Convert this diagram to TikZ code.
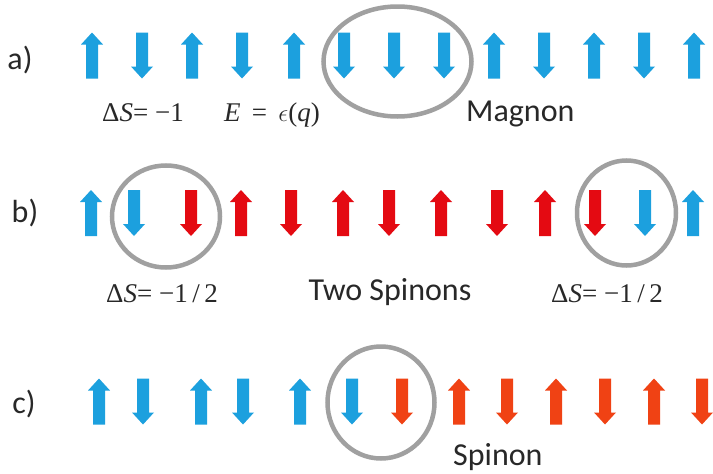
\documentclass[tikz,border=0pt]{standalone}
\usepackage{fontspec}
\setmainfont{Carlito}
\newfontfamily\tms{Liberation Serif}
\definecolor{spinblue}{RGB}{28,160,222}
\definecolor{spinred}{RGB}{228,10,18}
\definecolor{spinorange}{RGB}{240,66,20}
\definecolor{ringgray}{RGB}{160,160,160}
\definecolor{txtgray}{RGB}{40,40,40}
\tikzset{
  blu/.style={fill=spinblue},
  rd/.style={fill=spinred},
  org/.style={fill=spinorange},
  spinup/.pic={\path[pic actions] (-6,23) -- (-6,-11) -- (-11,-11) -- (0,-23) -- (11,-11) -- (6,-11) -- (6,23) -- cycle;},
  spindn/.pic={\path[pic actions] (-6,-23) -- (-6,11) -- (-11,11) -- (0,23) -- (11,11) -- (6,11) -- (6,-23) -- cycle;},
  ring/.style={draw=ringgray,line width=4.5pt},
  sanslbl/.style={inner sep=0pt,text=txtgray,font=\fontsize{32}{36}\selectfont},
  mathlbl/.style={inner sep=0pt,text=txtgray,font=\tms\fontsize{27}{30}\selectfont},
}
\begin{document}
\begin{tikzpicture}[x=1pt,y=-1pt]
\useasboundingbox[fill=white] (0,0) rectangle (713,474);
% row a
\node[sanslbl] (la) at (20,60) {a)};
\pic[blu] at (92,55.5) {spinup};
\pic[blu] at (142,55.5) {spindn};
\pic[blu] at (192,55.5) {spinup};
\pic[blu] at (242,55.5) {spindn};
\pic[blu] at (294,55.5) {spinup};
\pic[blu] at (344,55.5) {spindn};
\pic[blu] at (394,55.5) {spindn};
\pic[blu] at (444,55.5) {spindn};
\pic[blu] at (494,55.5) {spinup};
\pic[blu] at (544,55.5) {spindn};
\pic[blu] at (594,55.5) {spinup};
\pic[blu] at (644,55.5) {spindn};
\pic[blu] at (694,55.5) {spinup};
\draw[ring] (397.5,61.5) ellipse [x radius=74, y radius=55];
\node[mathlbl,anchor=base] (dsa) at (143,121) {Δ\textit{S}= −1};
\node[mathlbl,anchor=base] (ea) at (272,121) {\textit{E}\, = \,$\epsilon$(\textit{q})};
\node[sanslbl,anchor=base west] (mag) at (466,121) {Magnon};
% row b
\node[sanslbl] (lb) at (25,213) {b)};
\pic[blu] at (91,213) {spinup};
\pic[blu] at (134,213) {spindn};
\pic[rd] at (191,213) {spindn};
\pic[rd] at (241,213) {spinup};
\pic[rd] at (291,213) {spindn};
\pic[rd] at (343,213) {spinup};
\pic[rd] at (389,213) {spindn};
\pic[rd] at (441,213) {spinup};
\pic[rd] at (497,213) {spindn};
\pic[rd] at (545,213) {spinup};
\pic[rd] at (595,213) {spindn};
\pic[blu] at (645,213) {spindn};
\pic[blu] at (693,213) {spinup};
\draw[ring] (166,216.5) ellipse [x radius=54, y radius=51];
\draw[ring] (626.5,213) ellipse [x radius=49.5, y radius=52.5];
\node[mathlbl,anchor=base] (dsb1) at (162,302) {Δ\textit{S}= −1\,/\,2};
\node[sanslbl,anchor=base] (two) at (390,300) {Two Spinons};
\node[mathlbl,anchor=base] (dsb2) at (607,302) {Δ\textit{S}= −1\,/\,2};
% row c
\node[sanslbl] (lc) at (24,404) {c)};
\pic[blu] at (99,401.5) {spinup};
\pic[blu] at (143,401.5) {spindn};
\pic[blu] at (201,401.5) {spinup};
\pic[blu] at (243,401.5) {spindn};
\pic[blu] at (300,401.5) {spinup};
\pic[blu] at (352,401.5) {spindn};
\pic[org] at (402,401.5) {spindn};
\pic[org] at (459,401.5) {spinup};
\pic[org] at (507,401.5) {spindn};
\pic[org] at (556,401.5) {spinup};
\pic[org] at (605,401.5) {spindn};
\pic[org] at (654,401.5) {spinup};
\pic[org] at (702,401.5) {spindn};
\draw[ring] (381,402.5) ellipse [x radius=53.5, y radius=56];
\node[sanslbl,anchor=base west] (spn) at (453,465) {Spinon};
\end{tikzpicture}
\end{document}
